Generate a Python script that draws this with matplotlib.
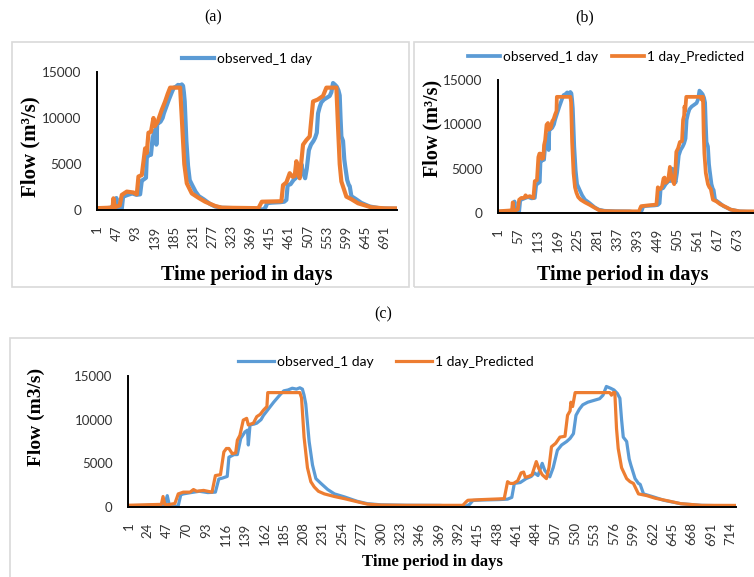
import matplotlib
matplotlib.use('Agg')
import matplotlib.pyplot as plt
from matplotlib.patches import Rectangle

# daily flow, breakpoints of the observed hydrograph (day, m3/s)
obs_day = [1, 20, 40, 44, 47, 49, 51, 56, 60, 63, 66, 75, 85, 95, 104, 108,
           112, 118, 120, 126, 130, 134, 139, 142, 143, 145, 150, 153, 158,
           161, 165, 169, 173, 177, 181, 185, 190, 195, 200, 204, 207, 209,
           211, 215, 219, 223, 229, 237, 245, 257, 272, 284, 300, 330, 370,
           385, 400, 405, 409, 420, 440, 450, 455, 458, 465, 472, 478, 482,
           486, 491, 494, 500, 504, 509, 514, 520, 524, 528, 531, 535, 539,
           545, 552, 559, 563, 567, 572, 576, 580, 583, 585, 587, 591, 594,
           596, 601, 605, 607, 611, 623, 635, 655, 679, 700, 720]
obs_flow = [150, 180, 280, 250, 1300, 400, 60, 40, 150, 1400, 1500, 1650,
            1800, 1650, 1700, 3200, 3300, 3500, 5700, 6000, 6000, 7850, 8600,
            8800, 7100, 9400, 9500, 9600, 10000, 10500, 11000, 11500, 12000,
            12450, 12900, 13300, 13400, 13600, 13500, 13650, 13500, 12800,
            11800, 7500, 4800, 3250, 2700, 2000, 1500, 1150, 650, 380, 250,
            200, 180, 80, 60, 300, 750, 800, 850, 900, 1100, 2700, 2800, 3250,
            3500, 3900, 3600, 5000, 4200, 3450, 4500, 6500, 7100, 7500, 7850,
            8400, 10500, 11200, 11700, 12000, 12200, 12400, 12800, 13800,
            13600, 13400, 13000, 12450, 10000, 8000, 7500, 5500, 4800, 3250,
            2700, 2600, 1500, 1150, 770, 380, 190, 150, 140]

# 1-day-ahead prediction, model of panel (a)
pred_a_day = [1, 32, 38, 40, 43, 55, 60, 72, 88, 96, 100, 108, 116, 120, 124,
              130, 136, 139, 146, 156, 164, 170, 176, 200, 204, 210, 216, 228,
              245, 260, 284, 300, 388, 396, 443, 447, 455, 463, 470, 475, 479,
              483, 487, 495, 503, 511, 519, 530, 543, 551, 575, 579, 583, 587,
              599, 610, 627, 659, 690, 720]
pred_a_flow = [200, 250, 300, 1270, 300, 500, 1640, 2000, 1900, 1700, 3640,
               3800, 6700, 6200, 8400, 8500, 10000, 9100, 9600, 10900, 11800,
               12600, 13300, 13300, 10000, 5000, 2900, 1800, 1300, 900, 440,
               250, 200, 900, 950, 2700, 3000, 4000, 3600, 3700, 5300, 4200,
               3450, 7100, 7600, 8000, 11800, 12000, 12400, 13300, 13300, 9000,
               5000, 3100, 1450, 1200, 730, 290, 180, 170]

# 1-day-ahead prediction, model of panels (b) and (c)
pred_day = [1, 40, 42, 44, 47, 56, 60, 66, 74, 78, 82, 90, 100, 104, 110, 114,
            117, 120, 124, 128, 130, 133, 137, 141, 143, 149, 153, 157, 161,
            165, 166, 204, 206, 209, 213, 217, 221, 226, 233, 245, 257, 272,
            284, 300, 330, 397, 401, 403, 420, 446, 450, 453, 457, 462, 466,
            469, 471, 475, 479, 484, 487, 491, 496, 499, 502, 507, 512, 518,
            521, 524, 525, 527, 530, 571, 573, 575, 577, 579, 581, 585, 591,
            595, 599, 605, 615, 625, 640, 655, 680, 720]
pred_flow = [200, 300, 1200, 300, 250, 400, 1500, 1700, 1700, 2000, 1800,
             1900, 1700, 3600, 3700, 6300, 6700, 6700, 6100, 6200, 7650, 8200,
             9950, 10150, 9400, 9600, 10350, 10600, 11100, 11500, 13100, 13100,
             12500, 8000, 4500, 2900, 2300, 1800, 1500, 1200, 950, 600, 330,
             220, 190, 190, 600, 770, 850, 950, 2900, 2700, 2700, 3000, 3900,
             4000, 3400, 3500, 3700, 5200, 4400, 3700, 3250, 4500, 6900, 7300,
             8000, 8100, 10500, 11000, 12000, 11500, 13100, 13100, 12800,
             13100, 13100, 9000, 6700, 4500, 3250, 2900, 2700, 1500, 1300,
             1000, 700, 380, 190, 180]

yticks = [0, 5000, 10000, 15000]
ticks_a = list(range(1, 721, 46))
ticks_b = list(range(1, 721, 56))
ticks_c = list(range(1, 721, 23))

BLUE = '#5B9BD5'
ORANGE = '#ED7D31'
W, H = 754, 577
SANS = 'Lato'
SERIF = 'Liberation Serif'

fig = plt.figure(figsize=(W / 100, H / 100), dpi=100)


def px_axes(left, top, right, bottom):
    return fig.add_axes([left / W, 1 - bottom / H, (right - left) / W,
                         (bottom - top) / H])


def box(left, top, right, bottom):
    fig.patches.append(Rectangle((left / W, 1 - bottom / H),
                                 (right - left) / W, (bottom - top) / H,
                                 transform=fig.transFigure, fill=False,
                                 edgecolor='#D9D9D9', linewidth=1.2))


def style(ax, ticks, xfs, yfs):
    ax.set_xlim(0.5, 720.5)
    ax.set_ylim(0, 15000)
    ax.set_xticks(ticks)
    ax.set_xticklabels([str(t) for t in ticks], rotation=90,
                       fontsize=xfs, family=SANS, color='#333333')
    ax.set_yticks(yticks)
    ax.set_yticklabels([str(t) for t in yticks], fontsize=yfs,
                       family=SANS, color='#333333')
    ax.tick_params(length=0)
    ax.tick_params(axis='x', pad=11)
    ax.tick_params(axis='y', pad=11)
    for s in ['top', 'right']:
        ax.spines[s].set_visible(False)
    for s in ['left', 'bottom']:
        ax.spines[s].set_color('black')
        ax.spines[s].set_linewidth(1.4)
    ax.patch.set_alpha(0)


def flabel(x, y, text, size, rot=0):
    fig.text(x / W, 1 - y / H, text, ha='center', va='center',
             rotation=rot, family=SERIF, fontweight='bold', fontsize=size)


box(12, 42, 409, 287)
box(414, 42, 760, 287)
box(10, 338, 760, 590)

fig.text(213 / W, 1 - 17 / H, '(a)', ha='center', va='center',
         family=SERIF, fontsize=11.5)
fig.text(585 / W, 1 - 17 / H, '(b)', ha='center', va='center',
         family=SERIF, fontsize=11.5)
fig.text(383 / W, 1 - 314 / H, '(c)', ha='center', va='center',
         family=SERIF, fontsize=11.5)

# (a)
ax = px_axes(97, 72, 397, 210)
ax.plot(obs_day, obs_flow, color=BLUE, lw=3.0, label='observed_1 day')
ax.plot(pred_a_day, pred_a_flow, color=ORANGE, lw=3.0, label='_nolegend_')
style(ax, ticks_a, 9.5, 9.8)
ax.legend(loc='center', bbox_to_anchor=(247 / W, 1 - 59 / H),
          bbox_transform=fig.transFigure, frameon=False,
          prop={'family': SANS, 'size': 9.8}, handlelength=2.4,
          handletextpad=0.2)
flabel(30, 147, 'Flow (m³/s)', 15, 90)
flabel(247, 275, 'Time period in days', 14.5)

# (b)
ax = px_axes(498, 80, 754, 213)
ax.plot(obs_day, obs_flow, color=BLUE, lw=2.7, label='observed_1 day')
ax.plot(pred_day, pred_flow, color=ORANGE, lw=2.7, label='1 day_Predicted')
style(ax, ticks_b, 9.5, 9.8)
ax.legend(loc='center', bbox_to_anchor=(606 / W, 1 - 57 / H),
          bbox_transform=fig.transFigure, frameon=False, ncol=2,
          prop={'family': SANS, 'size': 9.8}, handlelength=2.4,
          handletextpad=0.2, columnspacing=1.0)
flabel(432, 128, 'Flow (m³/s)', 14.5, 90)
flabel(623, 275, 'Time period in days', 14.5)

# (c)
ax = px_axes(128, 376, 736, 507)
ax.plot(obs_day, obs_flow, color=BLUE, lw=2.3, label='observed_1 day')
ax.plot(pred_day, pred_flow, color=ORANGE, lw=2.3, label='1 day_Predicted')
style(ax, ticks_c, 9.5, 9.5)
ax.legend(loc='center', bbox_to_anchor=(386 / W, 1 - 362 / H),
          bbox_transform=fig.transFigure, frameon=False, ncol=2,
          prop={'family': SANS, 'size': 10}, handlelength=2.6,
          handletextpad=0.2, columnspacing=1.6)
flabel(36, 417, 'Flow (m3/s)', 14, 90)
flabel(432, 562, 'Time period in days', 12)

fig.savefig('out.png', dpi=100)
